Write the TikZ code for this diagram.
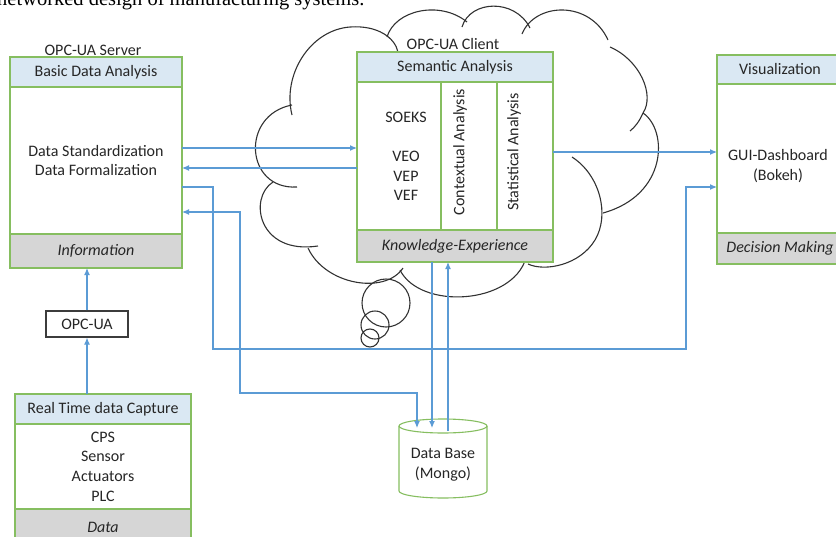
\documentclass[tikz,border=0pt]{standalone}
\usepackage{fontspec}
\setmainfont{Carlito}
\newfontfamily\capfont{Liberation Serif}
\usetikzlibrary{arrows.meta}
\definecolor{boxgreen}{RGB}{134,190,96}
\definecolor{hdrblue}{RGB}{218,232,243}
\definecolor{ftrgray}{RGB}{214,214,214}
\definecolor{flowblue}{RGB}{91,155,213}
\definecolor{cloudgray}{RGB}{50,50,50}
\definecolor{txt}{RGB}{38,38,38}
\definecolor{opcgray}{RGB}{60,60,60}
\newcommand\fs{\fontsize{16}{19.6}\selectfont}
\begin{document}
\begin{tikzpicture}[x=1pt,y=-1pt,
  box/.style={draw=boxgreen, line width=1.1pt, inner sep=0pt, outer sep=0pt, align=center, font=\fs, text=txt},
  hdr/.style={box, fill=hdrblue},
  bdy/.style={box, fill=white},
  ftr/.style={box, fill=ftrgray, font=\fs\itshape},
  txtn/.style={inner sep=0pt, align=center, font=\fs, text=txt},
  lbl/.style={inner sep=0pt, font=\fs, text=txt},
  flow/.style={draw=flowblue, line width=1.1pt, -{Latex[length=7pt,width=6pt]}},
  flow2/.style={draw=flowblue, line width=1.1pt, {Latex[length=7pt,width=6pt]}-{Latex[length=7pt,width=6pt]}},
  cloudline/.style={draw=cloudgray, line width=1.1pt},
  dbline/.style={draw=boxgreen, line width=1.1pt}]
\useasboundingbox (0,0) rectangle (836,536);

% caption fragment at the top edge
\node[anchor=base west, inner sep=0pt, font=\capfont\fontsize{20.5}{24}\selectfont, text=black] (cap) at (-3,5) {networked design of manufacturing systems.};

% ---------- cloud ----------
\draw[cloudline] (292,115) .. controls (282,75) and (310,30) .. (350,27) .. controls (378,25) and (395,38) .. (398,52);
\draw[cloudline] (387,37) .. controls (395,10) and (440,0) .. (467,22);
\draw[cloudline] (462,27) .. controls (470,0) and (515,-2) .. (530,28);
\draw[cloudline] (522,34) .. controls (535,2) and (590,0) .. (608,40);
\draw[cloudline] (610,47) .. controls (640,60) and (655,95) .. (643,113) .. controls (639,122) and (635,127) .. (630,131);
\draw[cloudline] (643,113) .. controls (668,130) and (668,195) .. (603,213);
\draw[cloudline] (572,157) .. controls (600,175) and (610,215) .. (595,240) .. controls (580,265) and (545,272) .. (528,264);
\draw[cloudline] (526,258) .. controls (512,305) and (420,310) .. (400,270);
\draw[cloudline] (308,248) .. controls (325,285) and (385,295) .. (403,268);
\draw[cloudline] (273,182) .. controls (248,198) and (258,255) .. (318,246);
\draw[cloudline] (292,105) .. controls (240,115) and (245,190) .. (297,187);
\draw[cloudline] (386,303) circle[radius=24];
\draw[cloudline] (375,325) circle[radius=14];
\draw[cloudline] (370,338) circle[radius=9];

% ---------- left box ----------
\node[lbl] (srv) at (93,50) {OPC-UA Server};
\node[hdr, minimum width=172pt, minimum height=30pt] (bdaH) at (96,72) {Basic Data Analysis};
\node[bdy, minimum width=172pt, minimum height=147pt] (bdaB) at (96,160.5) {Data Standardization\\Data Formalization};
\node[ftr, minimum width=172pt, minimum height=34pt] (bdaF) at (96,251) {Information};

% ---------- cloud box ----------
\node[lbl] (cli) at (453,44) {OPC-UA Client};
\node[hdr, minimum width=196pt, minimum height=30pt] (saH) at (455,67) {Semantic Analysis};
\node[bdy, minimum width=84pt, minimum height=148pt] (col1) at (399,156) {};
\node[bdy, minimum width=56pt, minimum height=148pt] (col2) at (469,156) {};
\node[bdy, minimum width=56pt, minimum height=148pt] (col3) at (525,156) {};
\node[txtn] (soeks) at (406,117) {SOEKS};
\node[txtn] (veo) at (406,176) {VEO\\VEP\\VEF};
\node[txtn, rotate=90] (ctx) at (460,152) {Contextual Analysis};
\node[txtn, rotate=90] (stat) at (514,152) {Statistical Analysis};
\node[ftr, minimum width=196pt, minimum height=32pt] (kexp) at (455,246) {Knowledge-Experience};

% ---------- visualization ----------
\node[hdr, minimum width=126pt, minimum height=29pt] (visH) at (780,69.5) {Visualization};
\node[bdy, minimum width=126pt, minimum height=149pt] (visB) at (780,158.5) {};
\node[txtn] (gui) at (778,166) {GUI-Dashboard\\(Bokeh)};
\node[ftr, minimum width=126pt, minimum height=31pt] (visF) at (780,248.5) {Decision Making};

% ---------- real time ----------
\node[hdr, minimum width=176pt, minimum height=30pt] (rtH) at (103,409) {Real Time data Capture};
\node[bdy, minimum width=176pt, minimum height=85pt] (rtB) at (103,466.5) {CPS\\Sensor\\Actuators\\PLC};
\node[ftr, minimum width=176pt, minimum height=36pt] (rtF) at (103,527) {Data};

% ---------- OPC-UA ----------
\node[draw=opcgray, line width=1.1pt, minimum width=82pt, minimum height=26pt, font=\fs, text=txt, inner sep=0pt] (opc) at (87,324) {OPC-UA};

% ---------- database ----------
\draw[dbline, fill=white] (399,426) -- (399,491) arc[start angle=180, end angle=0, x radius=44, y radius=7] -- (487,426);
\draw[dbline, fill=white] (443,426) ellipse[x radius=44, y radius=7];
\node[txtn] (db) at (443,465) {Data Base\\(Mongo)};

% ---------- coordinates ----------
\coordinate (L1) at (0,148);
\coordinate (L2) at (0,168);
\coordinate (L3) at (0,152);
\coordinate (L4) at (0,187);
\coordinate (L5) at (0,349);
\coordinate (L6) at (0,212);
\coordinate (L7) at (0,393);
\coordinate (X1) at (213,0);
\coordinate (X2) at (686,0);
\coordinate (X3) at (240,0);
\coordinate (db1) at (417,428);
\coordinate (db2) at (432,428);
\coordinate (db3) at (448,431);

% ---------- connectors ----------
\draw[flow] (bdaB.east |- L1) -- (col1.west |- L1);
\draw[flow] (col1.west |- L2) -- (bdaB.east |- L2);
\draw[flow] (col3.east |- L3) -- (visB.west |- L3);
\draw[flow] (bdaB.east |- L4) -| (X1 |- L5) -| (X2 |- L4) -- (visB.west |- L4);
\draw[flow2] (bdaB.east |- L6) -| (X3 |- L7) -| (db1);
\draw[flow] (kexp.south -| db2) -- (db2);
\draw[flow] (db3) -- (kexp.south -| db3);
\draw[flow] (rtH.north -| opc) -- (opc.south);
\draw[flow] (opc.north) -- (bdaF.south -| opc);
\end{tikzpicture}
\end{document}
